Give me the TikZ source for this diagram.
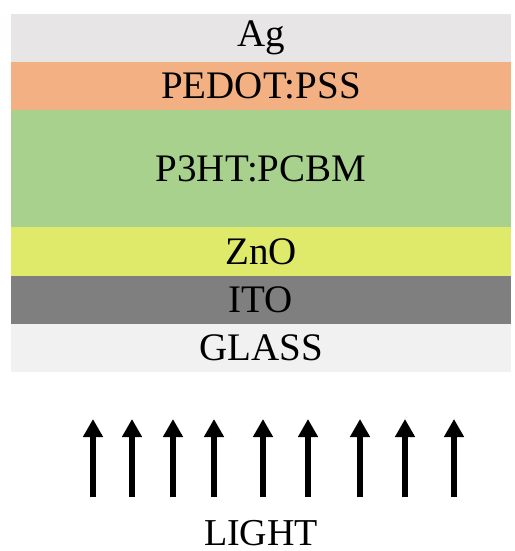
\documentclass[tikz,border=0pt]{standalone}
\usepackage{fontspec}
\setmainfont{Liberation Serif}
\usetikzlibrary{arrows.meta,positioning}
\definecolor{AgGray}{HTML}{E7E5E6}
\definecolor{PedotOrange}{HTML}{F3B183}
\definecolor{BlendGreen}{HTML}{A9D18E}
\definecolor{ZnoYellow}{HTML}{E0EA6A}
\definecolor{ItoGray}{HTML}{7F7F7F}
\definecolor{GlassGray}{HTML}{F1F1F1}
\tikzset{layer/.style={minimum width=500pt,inner sep=0pt,outer sep=0pt,
    font=\fontsize{39}{42}\selectfont,text=black},
  ray/.style={-{Triangle[width=19pt,length=18pt]},line width=6pt,draw=black}}

\begin{document}
\begin{tikzpicture}[x=1pt,y=-1pt]
    \useasboundingbox (0,0) rectangle (514,551);
    % device stack, top to bottom
    \node[layer,fill=AgGray,minimum height=48pt] (ag) at (261,38) {Ag};
    \node[layer,fill=PedotOrange,minimum height=48pt,below=0pt of ag] (pedot) {PEDOT:PSS};
    \node[layer,fill=BlendGreen,minimum height=117pt,below=0pt of pedot] (blend) {P3HT:PCBM};
    \node[layer,fill=ZnoYellow,minimum height=49pt,below=0pt of blend] (zno) {ZnO};
    \node[layer,fill=ItoGray,minimum height=48pt,below=0pt of zno] (ito) {ITO};
    \node[layer,fill=GlassGray,minimum height=48pt,below=0pt of ito] (glass) {GLASS};
    % incoming light
    \foreach \x [count=\i] in {93,132,173,214,263,308,360,405,454} {
      \coordinate (base\i) at (\x,497);
      \coordinate (tip\i) at (\x,419);
      \draw[ray] (base\i) -- (tip\i);
    }
    \node[font=\fontsize{38}{40}\selectfont,inner sep=0pt,anchor=base] (light) at (261,545) {LIGHT};
  \end{tikzpicture}
\end{document}
